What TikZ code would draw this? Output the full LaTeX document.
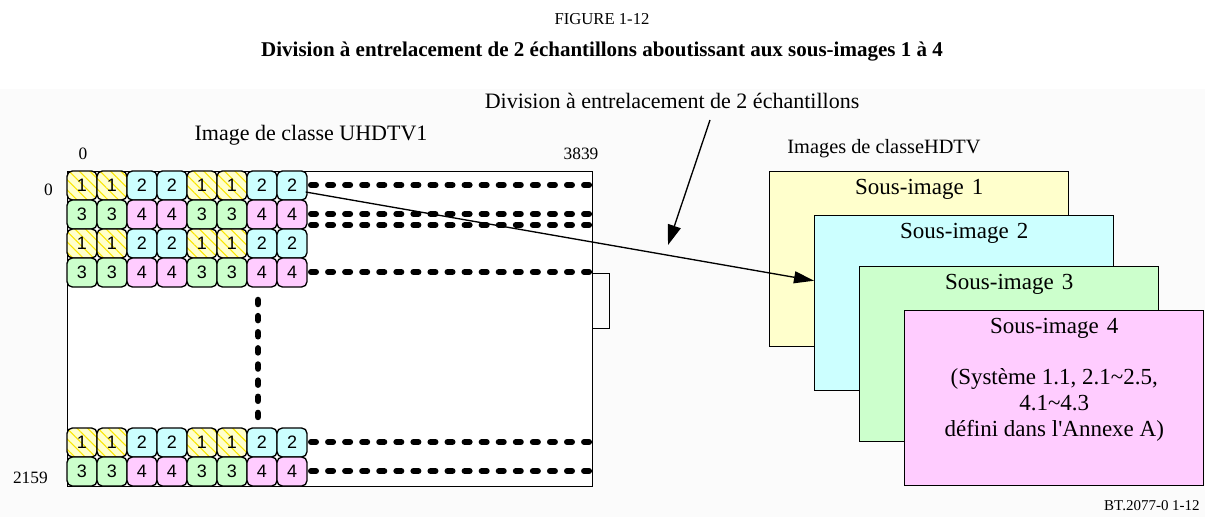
\documentclass[tikz,border=0pt]{standalone}
\usepackage{fontspec}
\setmainfont{Liberation Serif}
\newfontfamily\arialf{Liberation Sans}
\usetikzlibrary{arrows.meta,patterns.meta,calc}
\definecolor{c1}{HTML}{FFFFCC}
\definecolor{c2}{HTML}{CCFFFF}
\definecolor{c3}{HTML}{CCFFCC}
\definecolor{c4}{HTML}{FFCCFF}
\definecolor{hatch}{RGB}{250,230,0}
\definecolor{bgg}{RGB}{251,251,251}
\begin{document}
\begin{tikzpicture}[x=0.75pt,y=-0.75pt,
  tile/.style={draw=black,line width=1pt,rounded corners=4pt,minimum width=22.5pt,minimum height=21.75pt,inner sep=0pt,font=\arialf\fontsize{13.5}{14}\selectfont},
  hatchy/.style={preaction={fill=c1},preaction={pattern={Lines[angle=-45,distance=5.5pt,line width=0.8pt]},pattern color=hatch}},
  dots/.style={line width=4.5pt,line cap=round,dash pattern=on 3.75pt off 9.05pt},
  vdots/.style={line width=4.9pt,line cap=round,dash pattern=on 3pt off 9.1pt},
  subbox/.style={draw=black,line width=1.1pt,anchor=north west,minimum width=224.25pt,minimum height=131.25pt,inner sep=0pt},
  big/.style={font=\fontsize{16.5}{19.5}\selectfont},
  lab/.style={font=\fontsize{13}{15}\selectfont,inner sep=0pt},
  conn/.style={line width=1pt,-{Triangle[length=15pt,width=9pt]}}
]
\useasboundingbox (0,0) rectangle (1205,517);
\fill[white] (0,0) rectangle (1205,89);
\fill[bgg] (0,89) rectangle (1205,517);

% titles
\node[font=\fontsize{12.5}{15}\selectfont] (fig) at (602,19) {FIGURE 1-12};
\node[font=\fontsize{15.75}{18}\selectfont\bfseries] (ttl) at (602,52) {Division à entrelacement de 2 échantillons aboutissant aux sous-images 1 à 4};
\node[big] (dl) at (672,101) {Division à entrelacement de 2 échantillons};
\node[big] (ul) at (311,135) {Image de classe UHDTV1};
\node[font=\fontsize{15.25}{17}\selectfont] (hl) at (884,149) {Images de classeHDTV};
\node[lab] (x0) at (83,154) {0};
\node[lab] (x1) at (581,154) {3839};
\node[lab,anchor=east] (y0) at (53,190) {0};
\node[lab,anchor=east] (y1) at (48,478) {2159};
\node[font=\fontsize{11.25}{13}\selectfont,anchor=east,inner sep=0pt] (bt) at (1200,506) {BT.2077-0 1-12};

% big picture frame
\node[draw=black,line width=1.1pt,fill=white,anchor=north west,minimum width=393.75pt,minimum height=236.25pt,inner sep=0pt] (frame) at (67,171) {};
\draw[line width=0.75pt] (592,273) -| (609,328) -- (592,328);

% tiles
\foreach \r/\y/\a/\b in {1/171/1/2,2/200/3/4,3/229/1/2,4/258/3/4,5/428/1/2,6/457/3/4}{
  \foreach \c in {1,...,8}{
    \pgfmathtruncatemacro\k{mod(floor((\c-1)/2),2)==0 ? \a : \b}
    \ifnum\k=1
      \node[tile,hatchy] (t\r\c) at ({67+30*\c-15},{\y+14.5}) {\k};
    \else
      \node[tile,fill=c\k] (t\r\c) at ({67+30*\c-15},{\y+14.5}) {\k};
    \fi
  }
}

% dotted lines
\foreach \yy in {185,214,225,272,442,471}{
  \draw[dots] (311,\yy) -- (590,\yy);
}
\draw[vdots] (258,300) -- (258,418);

% sub-images
\node[subbox,fill=c1] (b1) at (769,171) {};
\node[big,font=\fontsize{17.25}{19.5}\selectfont] (s1) at ($(b1.north)+(0,18)$) {Sous-image\hspace{.1em} 1};
\node[subbox,fill=c2] (b2) at (814,215) {};
\node[big,font=\fontsize{17.25}{19.5}\selectfont] (s2) at ($(b2.north)+(0,18)$) {Sous-image\hspace{.1em} 2};
\node[subbox,fill=c3] (b3) at (859,266) {};
\node[big,font=\fontsize{17.25}{19.5}\selectfont] (s3) at ($(b3.north)+(0,18)$) {Sous-image\hspace{.1em} 3};
\node[subbox,fill=c4] (b4) at (904,310) {};
\node[big,font=\fontsize{17.25}{19.5}\selectfont] (s4) at ($(b4.north)+(0,18)$) {Sous-image\hspace{.1em} 4};
\node[align=center,font=\fontsize{17.25}{19.5}\selectfont] (s4b) at ($(b4.north)+(0,95)$) {(Système 1.1, 2.1\textasciitilde2.5,\\4.1\textasciitilde4.3\\défini dans l\textquotesingle Annexe A)};

% arrows
\draw[conn] ($(t18.east)+(-2,6.5)$) -- ($(b2.west)+(0,-22.5)$);
\coordinate (a2s) at (710,120);
\coordinate (a2e) at (668,245);
\draw[conn,-{Triangle[length=15pt,width=10pt]}] (a2s) -- (a2e);
\end{tikzpicture}
\end{document}
